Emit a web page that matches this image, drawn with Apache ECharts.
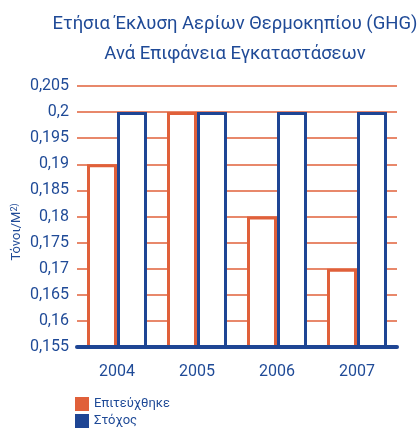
<!DOCTYPE html>
<html>
<head>
<meta charset="utf-8">
<script src="https://cdn.jsdelivr.net/npm/echarts@6/dist/echarts.min.js"></script>
<style>
  html, body { margin: 0; padding: 0; background: #fff; }
  #chart { width: 417px; height: 429px; }
</style>
</head>
<body>
<div id="chart"></div>
<script>
const years = ['2004', '2005', '2006', '2007'];
const achieved = [0.19, 0.2, 0.18, 0.17];
const target = [0.2, 0.2, 0.2, 0.2];

const ORANGE = '#e0603a';
const BLUE = '#1e4594';
const TEXT = '#1f4a97';
const FONT = 'Roboto, "Liberation Sans", sans-serif';

const chart = echarts.init(document.getElementById('chart'));

// ίδιο στυλ για όλα τα κείμενα
const txt = (size) => ({ color: TEXT, fontFamily: FONT, fontSize: size });

// ένα legend ανά σειρά, το ένα κάτω από το άλλο
const legendItem = (name, color, top) => ({
  left: 75,
  top: top,
  padding: 0,
  itemWidth: 14,
  itemHeight: 14,
  itemGap: 8,
  icon: 'rect',
  textStyle: txt(13),
  data: [{ name: name, itemStyle: { color: color, borderWidth: 0 } }],
});

chart.setOption({
  animation: false,
  title: {
    text: 'Ετήσια Έκλυση Αερίων Θερμοκηπίου (GHG)\nΑνά Επιφάνεια Εγκαταστάσεων',
    left: 230,
    textAlign: 'center',
    top: 4,
    textStyle: { ...txt(18.5), fontWeight: 'normal', lineHeight: 30 },
  },
  legend: [
    legendItem('Επιτεύχθηκε', ORANGE, 397),
    legendItem('Στόχος', BLUE, 414),
  ],
  grid: { left: 77, right: 20, top: 86, bottom: 82, outerBoundsMode: 'none' },
  xAxis: {
    type: 'category',
    data: years,
    z: 5,
    axisLine: { lineStyle: { color: BLUE, width: 4 } },
    axisTick: { show: false },
    axisLabel: { ...txt(16), margin: 17 },
  },
  yAxis: {
    type: 'value',
    min: 0.155,
    max: 0.205,
    interval: 0.005,
    axisLine: { show: false },
    axisTick: { show: false },
    axisLabel: {
      ...txt(16),
      margin: 8,
      formatter: (v) => String(parseFloat(v.toFixed(3))).replace('.', ','),
    },
    splitLine: { lineStyle: { color: ORANGE, width: 1.5 } },
  },
  graphic: [
    {
      type: 'text',
      x: 17,
      y: 232,
      rotation: Math.PI / 2,
      style: {
        text: 'Τόνοι/Μ{s|2)}',
        fill: TEXT,
        font: '13px ' + FONT,
        align: 'center',
        verticalAlign: 'middle',
        rich: { s: { fontSize: 9, verticalAlign: 'top', fill: TEXT, fontFamily: FONT } },
      },
    },
  ],
  series: [
    {
      name: 'Επιτεύχθηκε',
      type: 'bar',
      data: achieved,
      barWidth: 30,
      barGap: '0%',
      itemStyle: { color: '#fff', borderColor: ORANGE, borderWidth: 3 },
    },
    {
      name: 'Στόχος',
      type: 'bar',
      data: target,
      barWidth: 30,
      itemStyle: { color: '#fff', borderColor: BLUE, borderWidth: 3 },
    },
  ],
});
</script>
</body>
</html>
